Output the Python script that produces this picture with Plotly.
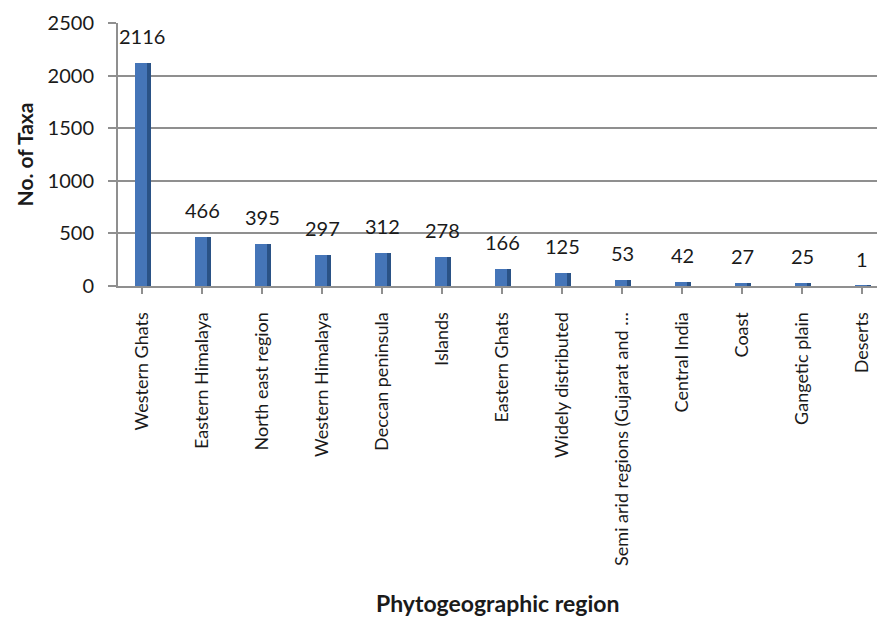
import plotly.graph_objects as go

# Phytogeographic distribution of taxa
regions = [
    "Western Ghats", "Eastern Himalaya", "North east region", "Western Himalaya",
    "Deccan peninsula", "Islands", "Eastern Ghats", "Widely distributed",
    "Semi arid regions (Gujarat and …", "Central India", "Coast",
    "Gangetic plain", "Deserts",
]
taxa = [2116, 466, 395, 297, 312, 278, 166, 125, 53, 42, 27, 25, 1]
y_ticks = [0, 500, 1000, 1500, 2000, 2500]

FONT = "Lato, 'Open Sans', sans-serif"
TEXT = "#1a1a1a"
GRID = "#8f8f8f"

fig = go.Figure()

# darker side face of each column
fig.add_trace(go.Bar(
    x=regions, y=taxa, width=0.26, offset=-0.11,
    marker=dict(color="#2a5286", line=dict(width=0)),
    hoverinfo="skip", showlegend=False,
))
# front face of each column
fig.add_trace(go.Bar(
    x=regions, y=taxa, width=0.2, offset=-0.11,
    marker=dict(color="#4575b8", line=dict(width=0)),
    showlegend=False,
))

# value labels above the columns
for name, val in zip(regions, taxa):
    fig.add_annotation(
        x=name, y=val, text=str(val), showarrow=False,
        yshift=27, font=dict(family=FONT, size=20, color=TEXT),
    )

# x axis title placed below the rotated category labels
fig.add_annotation(
    xref="paper", yref="paper", x=0.5, y=-1.205,
    xanchor="center", yanchor="middle", showarrow=False,
    text="<b>Phytogeographic region</b>",
    font=dict(family=FONT, size=23, color=TEXT),
)

fig.update_layout(
    width=877, height=620,
    margin=dict(l=118, r=0, t=23, b=334),
    paper_bgcolor="white", plot_bgcolor="white",
    barmode="overlay", bargap=0,
    font=dict(family=FONT, color=TEXT),
)

fig.update_xaxes(
    type="category", range=[-0.4, 12.25],
    tickangle=-90, tickfont=dict(family=FONT, size=18, color=TEXT),
    showline=True, linecolor=GRID, linewidth=2,
    ticks="outside", ticklen=6, tickcolor=GRID, tickwidth=2,
    ticklabelstandoff=11,
    showgrid=False,
)

fig.update_yaxes(
    range=[0, 2500], tickvals=y_ticks,
    tickfont=dict(family=FONT, size=20, color=TEXT),
    showline=True, linecolor=GRID, linewidth=2,
    ticks="outside", ticklen=8, tickcolor=GRID, tickwidth=2,
    ticklabelstandoff=10,
    showgrid=True, gridcolor=GRID, gridwidth=2,
    zeroline=False,
    title=dict(text="<b>No. of Taxa</b>", standoff=8,
               font=dict(family=FONT, size=21, color=TEXT)),
)

fig.write_html("out.html")
